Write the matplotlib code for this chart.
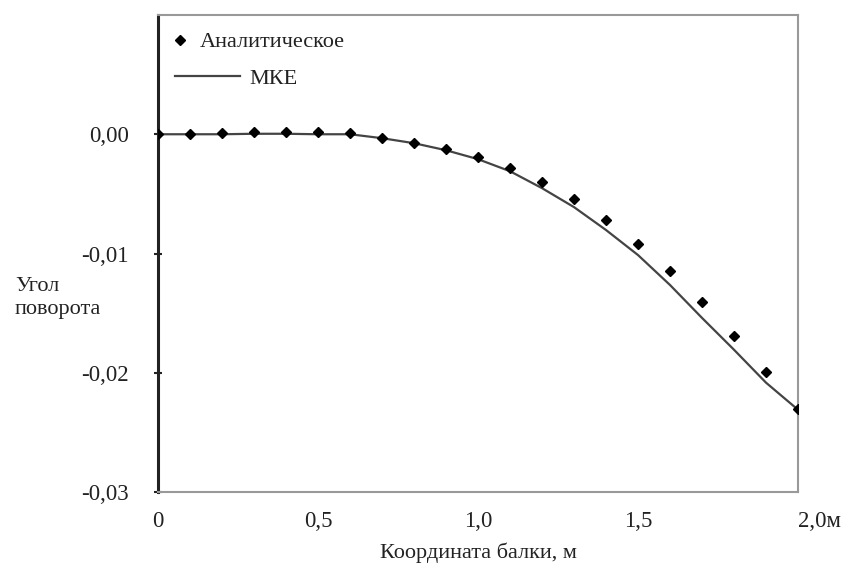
"""Угол поворота балки: аналитическое решение и МКЕ."""
import numpy as np
import matplotlib.pyplot as plt

plt.rcParams['font.family'] = ['Liberation Serif', 'DejaVu Serif']

# координаты точек, м
x_pts = [0.0, 0.1, 0.2, 0.3, 0.4, 0.5, 0.6, 0.7, 0.8, 0.9, 1.0,
         1.1, 1.2, 1.3, 1.4, 1.5, 1.6, 1.7, 1.8, 1.9, 2.0]
# аналитическое решение
y_analytic = [0.0, 0.0, 0.0001, 0.0002, 0.0002, 0.0002, 0.0001, -0.0003,
              -0.0007, -0.0012, -0.0019, -0.0028, -0.0040, -0.0054,
              -0.0072, -0.0092, -0.0115, -0.0141, -0.0169, -0.0199, -0.0230]
# решение МКЕ
y_fem = [0.0, 0.0, 0.0, 0.00004, 0.00004, 0.0, 0.0, -0.00033, -0.00075,
         -0.00134, -0.00209, -0.00310, -0.00452, -0.00611, -0.00803,
         -0.01013, -0.01264, -0.01540, -0.01807, -0.02083, -0.02310]

x_ticks = [0.0, 0.5, 1.0, 1.5, 2.0]
x_ticklabels = ['0', '0,5', '1,0', '1,5', '2,0м']
y_ticks = [0.0, -0.01, -0.02, -0.03]
y_ticklabels = ['0,00', '-0,01', '-0,02', '-0,03']

fs = 16
tc = '#222222'

fig = plt.figure(figsize=(8.47, 5.65), dpi=100)
ax = fig.add_axes([158 / 847, 73 / 565, 640 / 847, 477 / 565])

pts, = ax.plot(x_pts, y_analytic, 'D', color='black', ms=5.5, zorder=3)
line, = ax.plot(x_pts, y_fem, '-', color='#444444', lw=1.6, zorder=2)

ax.set_xlim(0, 2.0)
ax.set_ylim(-0.03, 0.01)

ax.set_xticks(x_ticks)
ax.set_xticklabels(x_ticklabels)
ax.set_yticks(y_ticks)
ax.set_yticklabels(y_ticklabels)
ax.tick_params(axis='x', length=0, pad=14, labelsize=16.5, labelcolor=tc)
ax.tick_params(axis='y', direction='inout', length=6, width=1.5, pad=18,
               labelsize=16.5, labelcolor=tc, color=tc)
last = ax.get_xticklabels()[-1]
last.set_horizontalalignment('left')

for side in ['top', 'right', 'bottom']:
    ax.spines[side].set_color('#999999')
    ax.spines[side].set_linewidth(1.5)
ax.spines['left'].set_color(tc)
ax.spines['left'].set_linewidth(2.2)

ax.set_xlabel('Координата балки, м', fontsize=fs, color=tc, labelpad=7)
fig.text(15 / 847, 1 - 298 / 565, 'Угол\nповорота', fontsize=fs,
         color=tc, ha='left', va='center', linespacing=1.35)

leg1 = ax.legend([pts], ['Аналитическое'], loc='center left',
                 bbox_to_anchor=(0.024, 0.943), frameon=False, fontsize=fs,
                 borderpad=0, borderaxespad=0, handlelength=0.6,
                 handletextpad=0.6, labelcolor=tc)
ax.add_artist(leg1)
ax.legend([line], ['МКЕ'], loc='center left',
          bbox_to_anchor=(0.027, 0.866), frameon=False, fontsize=fs,
          borderpad=0, borderaxespad=0, handlelength=2.9, handletextpad=0.45,
          labelcolor=tc)

fig.savefig('out.png', dpi=100)
